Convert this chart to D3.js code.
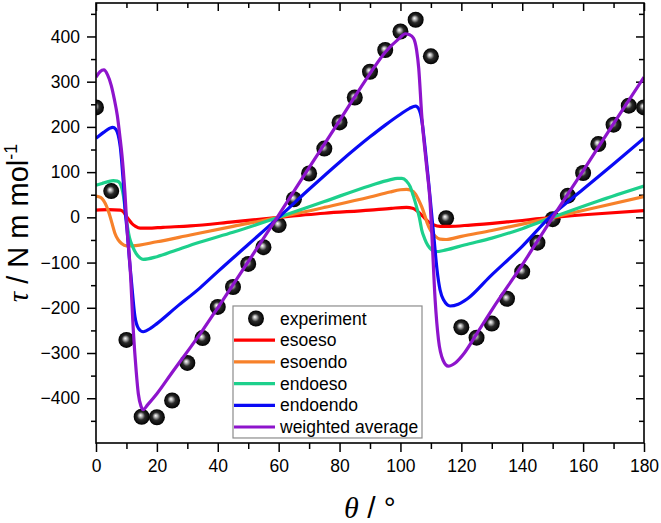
<!DOCTYPE html>
<html>
<head>
<meta charset="utf-8">
<script src="https://cdn.jsdelivr.net/npm/d3@7"></script>
<style>
  body { margin: 0; background: #fff; }
  svg { display: block; font-family: "Liberation Sans", Arial, sans-serif; }
</style>
</head>
<body>
<svg id="chart" width="661" height="523"></svg>
<script>
// experiment, every 5 degrees
var expTheta = [0, 5, 10, 15, 20, 25, 30, 35, 40, 45, 50, 55, 60, 65, 70, 75, 80, 85, 90,
  95, 100, 105, 110, 115, 120, 125, 130, 135, 140, 145, 150, 155, 160, 165, 170, 175, 180];
var expTau = [243, 58, -271, -441, -442, -405, -322, -267, -198, -154, -103, -66, -17, 40, 97,
  152, 210, 265, 322, 370, 411, 437, 356, -2, -243, -266, -235, -180, -120, -56, -4, 48, 98,
  162, 205, 247, 243];

// computed curves, [theta, tau]
var esoeso = [[0, 16], [4, 17], [8, 16], [9, 12], [10, 2], [11, -7], [11.7, -13], [13, -20],
  [14.5, -24], [17, -24], [22, -22], [31, -19], [45, -10], [60, 0], [75, 9], [90, 16], [97, 20],
  [102, 22], [104, 20], [105.5, 14], [106.5, 8], [108, -2], [109.2, -10], [111, -17], [113, -20],
  [116, -20], [123, -17], [135, -10], [150, 0], [165, 8], [180, 15]];

var esoendo = [[0, 47], [1.5, 44], [2.5, 37], [3.5, 24], [4.3, 9], [5.3, -14], [6.2, -35],
  [7.3, -50], [8.4, -58], [10, -63], [12, -63], [20, -54], [31, -39], [45, -20], [60, 0],
  [75, 22], [90, 45], [96.5, 56], [100, 61], [102, 62], [103.5, 60], [105, 51], [106, 38],
  [107, 23], [108, 4], [108.8, -13], [110, -30], [111.5, -42], [113, -48], [115, -49],
  [120, -42], [130, -29], [140, -15], [150, 0], [165, 23], [180, 46]];

var endoeso = [[0, 71], [2, 75], [4, 79], [5.7, 81], [7, 80], [7.9, 75], [8.5, 64], [9, 48],
  [10, -6], [11, -45], [12, -64], [13.2, -80], [14.5, -90], [15.5, -93], [20, -87], [26.5, -72],
  [34, -55], [45, -33], [60, 0], [75, 35], [90, 70], [96.5, 83], [99, 86], [100.5, 86], [102, 80],
  [103.2, 68], [104.2, 48], [105.3, 23], [106.2, 0], [107, -28], [108, -48], [109, -62],
  [110.3, -72], [111.5, -76], [115, -72], [121, -61], [130, -46], [140, -25], [150, 0],
  [165, 36], [180, 69]];

var endoendo = [[0, 175], [2.5, 188], [4.5, 197], [5.5, 199], [6.5, 195], [7.3, 182], [8, 155],
  [8.4, 127], [9, 75], [9.5, 23], [10.3, -35], [11, -95], [11.7, -146], [12.8, -220], [14, -246],
  [15.5, -253], [18, -245], [20, -235], [26.5, -198], [34, -157], [40, -120], [50, -60], [60, 0],
  [70, 62], [80, 122], [90, 178], [95, 204], [100, 228], [103, 241], [105, 246], [106, 240],
  [107, 215], [108, 160], [109, 95], [110, 25], [111, -45], [112, -115], [113, -160],
  [114.2, -183], [116.3, -196], [119, -192], [122, -180], [129.4, -131], [140, -64], [149, 0],
  [160, 62], [170, 118], [180, 175]];

var weighted = [[0, 310], [1.3, 322], [2.6, 326], [3.8, 315], [5, 292], [6, 262], [7, 225],
  [8, 170], [8.5, 140], [9.5, 55], [10.3, -35], [11.2, -110], [12.3, -255], [13.2, -340],
  [13.9, -390], [14.8, -418], [15.5, -425], [17, -414], [20, -390], [25, -343], [30, -297],
  [35, -250], [40, -200], [50, -98], [60, 5], [70, 110], [80, 214], [90, 318], [95, 365],
  [100, 398], [101.5, 406], [103, 404], [104.3, 396], [105.3, 370], [106, 330], [107, 225],
  [108.6, 112], [109.7, 38], [110.3, -35], [111.4, -183], [112.5, -271], [114, -316],
  [115.7, -329], [118, -322], [121, -300], [125, -258], [130, -205], [140, -105], [150, 0],
  [160, 103], [170, 207], [180, 310]];

var seriesNames = ["esoeso", "esoendo", "endoeso", "endoendo", "weighted average"];
var seriesColors = ["#ff0000", "#f7812a", "#1dd08c", "#0a0af5", "#8e14cc"];
var seriesData = [esoeso, esoendo, endoeso, endoendo, weighted];

var xMajor = [0, 20, 40, 60, 80, 100, 120, 140, 160, 180];
var xMinor = [10, 30, 50, 70, 90, 110, 130, 150, 170];
var yMajor = [-400, -300, -200, -100, 0, 100, 200, 300, 400];
var yMinor = [-450, -350, -250, -150, -50, 50, 150, 250, 350, 450];

var svg = d3.select("#chart"),
  W = +svg.attr("width"),
  H = +svg.attr("height"),
  margin = { top: 3, right: 17, bottom: 80, left: 96 },
  width = W - margin.left - margin.right,
  height = H - margin.top - margin.bottom;

var x = d3.scaleLinear().domain([0, 180]).range([0, width]);
var y = d3.scaleLinear().domain([-499, 474]).range([height, 0]);

var g = svg.append("g").attr("transform", "translate(" + margin.left + "," + margin.top + ")");

var defs = svg.append("defs");
defs.append("clipPath").attr("id", "plotclip")
  .append("rect").attr("width", width).attr("height", height);

var grad = defs.append("radialGradient").attr("id", "ball")
  .attr("cx", "0.5").attr("cy", "0.5").attr("r", "0.5")
  .attr("fx", "0.42").attr("fy", "0.4");
grad.append("stop").attr("offset", "0%").attr("stop-color", "#ffffff");
grad.append("stop").attr("offset", "22%").attr("stop-color", "#b0b0b0");
grad.append("stop").attr("offset", "50%").attr("stop-color", "#2a2a2a");
grad.append("stop").attr("offset", "100%").attr("stop-color", "#000000");

// axes
function tickStyle(sel) {
  sel.select(".domain").remove();
  sel.selectAll(".tick line").attr("stroke", "#000").attr("stroke-width", 1.5);
  sel.selectAll(".tick text").attr("fill", "#000")
    .style("font-size", "17.5px").style("font-family", "'Liberation Sans', Arial, sans-serif");
}

g.append("g").attr("transform", "translate(0," + height + ")")
  .call(d3.axisBottom(x).tickValues(xMajor).tickSize(9).tickPadding(8).tickFormat(d3.format("d")))
  .call(tickStyle);
g.append("g").attr("transform", "translate(0," + height + ")")
  .call(d3.axisBottom(x).tickValues(xMinor).tickSize(6).tickFormat(""))
  .call(tickStyle);
g.append("g")
  .call(d3.axisLeft(y).tickValues(yMajor).tickSize(9).tickPadding(7))
  .call(tickStyle);
g.append("g")
  .call(d3.axisLeft(y).tickValues(yMinor).tickSize(5).tickFormat(""))
  .call(tickStyle);
// top and right: inward ticks, no labels
g.append("g")
  .call(d3.axisTop(x).tickValues(xMajor).tickSize(-8).tickFormat(""))
  .call(tickStyle);
g.append("g")
  .call(d3.axisTop(x).tickValues(xMinor).tickSize(-5).tickFormat(""))
  .call(tickStyle);
g.append("g").attr("transform", "translate(" + width + ",0)")
  .call(d3.axisRight(y).tickValues(yMajor).tickSize(-8).tickFormat(""))
  .call(tickStyle);
g.append("g").attr("transform", "translate(" + width + ",0)")
  .call(d3.axisRight(y).tickValues(yMinor).tickSize(-5).tickFormat(""))
  .call(tickStyle);

var plot = g.append("g").attr("clip-path", "url(#plotclip)");

// experiment points
plot.selectAll("circle.exp")
  .data(expTheta.map(function (t, i) { return [t, expTau[i]]; }))
  .enter()
  .append("circle")
  .attr("class", "exp")
  .attr("cx", function (d) { return x(d[0]); })
  .attr("cy", function (d) { return y(d[1]); })
  .attr("r", 8)
  .attr("fill", "url(#ball)");

var line = d3.line()
  .x(function (d) { return x(d[0]); })
  .y(function (d) { return y(d[1]); })
  .curve(d3.curveMonotoneX);

plot.selectAll("path.curve")
  .data(seriesData)
  .enter()
  .append("path")
  .attr("class", "curve")
  .attr("d", line)
  .attr("fill", "none")
  .attr("stroke", function (d, i) { return seriesColors[i]; })
  .attr("stroke-width", 3.2)
  .attr("stroke-linejoin", "round");

// frame
g.append("rect")
  .attr("width", width).attr("height", height)
  .attr("fill", "none").attr("stroke", "#000").attr("stroke-width", 1.6);

// legend, top-left corner sits at theta 45, tau -196
var legend = g.append("g").attr("transform", "translate(" + x(45) + "," + y(-196) + ")");
legend.append("rect")
  .attr("width", 189).attr("height", 132)
  .attr("fill", "#fff").attr("stroke", "#8c8c8c").attr("stroke-width", 1.2);

var rowH = 21.7;
legend.append("circle")
  .attr("cx", 23).attr("cy", 12.5).attr("r", 8).attr("fill", "url(#ball)");
legend.append("text")
  .attr("x", 47).attr("y", 12.5).attr("dy", "0.35em")
  .style("font-size", "17.5px").text("experiment");

var rows = legend.selectAll("g.row")
  .data(seriesNames)
  .enter()
  .append("g")
  .attr("class", "row")
  .attr("transform", function (d, i) { return "translate(0," + (12.5 + rowH * (i + 1)) + ")"; });
rows.append("line")
  .attr("x1", 1).attr("x2", 42)
  .attr("stroke", function (d, i) { return seriesColors[i]; })
  .attr("stroke-width", 3.2);
rows.append("text")
  .attr("x", 47).attr("dy", "0.35em")
  .style("font-size", "17.5px")
  .text(function (d) { return d; });

// axis titles
var ytitle = svg.append("text")
  .attr("transform", "translate(28," + (margin.top + height / 2) + ") rotate(-90)")
  .attr("text-anchor", "middle")
  .style("font-size", "29px");
ytitle.append("tspan").style("font-family", "'Liberation Serif', 'Times New Roman', serif")
  .style("font-style", "italic").text("τ");
ytitle.append("tspan").text(" / N m mol");
ytitle.append("tspan").attr("dy", "-11").style("font-size", "18px").text("-1");

var xtitle = svg.append("text")
  .attr("x", margin.left + width / 2).attr("y", 518)
  .attr("text-anchor", "middle")
  .style("font-size", "30px");
xtitle.append("tspan").style("font-family", "'Liberation Serif', 'Times New Roman', serif")
  .style("font-style", "italic").text("θ");
xtitle.append("tspan").text(" / °");
</script>
</body>
</html>
